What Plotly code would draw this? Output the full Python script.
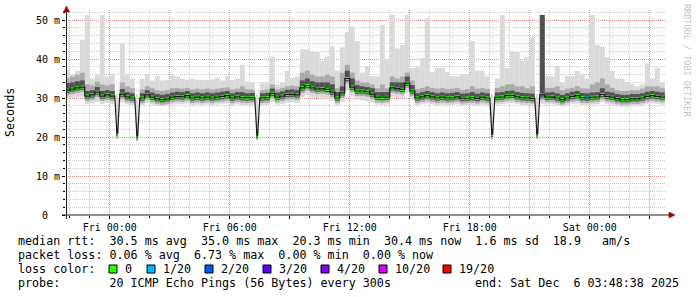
import plotly.graph_objects as go
import pandas as pd

# ---------------- data ----------------
range_start = "2025-12-04 21:48:38"
range_end = "2025-12-06 03:48:38"
bucket_first_center = "2025-12-04 21:52:30"   # 15-minute buckets
bucket_minutes = 15

median = [
    32.0, 32.3, 32.6, 32.8, 30.5, 30.8, 31.5, 30.5, 30.8, 30.5,
    21.0, 31.0, 30.3, 30.0, 20.3, 30.0, 30.8, 30.2, 29.8, 29.6,
    29.8, 30.2, 30.4, 30.3, 30.6, 30.0, 30.2, 30.0, 30.2, 30.0,
    30.2, 30.4, 30.6, 30.0, 30.3, 30.1, 30.0, 30.1, 20.5, 30.0,
    30.1, 31.2, 30.2, 30.5, 30.9, 31.0, 30.8, 32.6, 33.2, 32.6,
    32.3, 32.4, 32.2, 31.5, 30.0, 31.3, 35.0, 32.8, 31.8, 31.8,
    31.6, 31.0, 30.2, 30.1, 30.2, 32.6, 32.4, 32.2, 33.8, 31.8,
    30.0, 30.3, 30.6, 30.3, 30.0, 30.2, 30.0, 30.1, 30.3, 29.9,
    30.0, 30.1, 29.9, 30.2, 30.0, 20.7, 30.2, 30.3, 30.6, 30.7,
    30.3, 30.1, 30.0, 29.9, 20.8, 30.8, 30.2, 30.3, 30.0, 29.6,
    30.0, 30.4, 30.6, 30.1, 30.0, 30.2, 30.3, 30.9, 30.4, 30.2,
    29.8, 29.6, 29.6, 29.8, 29.8, 30.0, 30.4, 30.6, 30.4, 30.2,
]

smoke_hi = [
    37, 36, 37, 45, 51.3, 35, 36, 51.3, 35.5, 36.3,
    31, 44, 36, 35, 31, 35, 36, 34.5, 35.6, 34.5,
    34.6, 36, 35.5, 35, 34.6, 35, 34.6, 34.6, 34.6, 34.8,
    35.2, 34.5, 35.5, 34.6, 35, 38.5, 34.2, 34, 31, 34,
    33.8, 40.6, 33.5, 34, 37, 35.2, 35.5, 42.5, 42.5, 42,
    41.8, 39.5, 40.6, 43.2, 37, 43, 47, 48.3, 44.6, 36.5,
    38.2, 35.6, 35.6, 48.7, 40, 51.3, 42.7, 43.6, 51.3, 37.7,
    38, 40.3, 50.4, 36.6, 37.7, 37.7, 36.6, 35.6, 35.6, 36,
    36, 44.6, 37, 37, 35.6, 31, 35, 51.3, 37.7, 42,
    41.8, 39.6, 40.5, 45.7, 31, 51.3, 35.6, 35.6, 38.2, 34,
    35.6, 35.6, 37, 36, 35, 51.3, 43.6, 43.2, 40.5, 37,
    35, 35, 34, 33.6, 33, 33.5, 38.9, 35, 37.7, 34,
]

smoke_mid_hi = [
    35, 35.5, 36, 36.5, 33.5, 33.2, 34.2, 33.5, 33.2, 33.5,
    22, 34, 33, 32.5, 22, 32.2, 33, 32.5, 32, 31.8,
    32, 32.5, 32.6, 32.4, 32.6, 32.2, 32.4, 32.2, 32.4, 32.2,
    32.4, 32.6, 32.7, 32.2, 32.4, 33, 32.2, 32.2, 22, 32,
    32.2, 33.5, 32.2, 32.6, 33, 33.2, 33, 36.5, 37, 36,
    35.5, 35.5, 36, 35.5, 32.5, 36.5, 38.5, 36.5, 34.5, 34,
    34, 33.5, 32.5, 33.5, 32.5, 35.5, 35, 35.5, 36.5, 34.5,
    32.3, 32.6, 33, 32.6, 32.4, 32.5, 32.3, 32.4, 32.6, 32.1,
    32.3, 33, 32.4, 32.5, 32.3, 22, 32.6, 33, 33.5, 33.5,
    33, 33, 32.5, 33, 22, 34, 32.6, 32.6, 33, 32,
    32.4, 32.6, 33, 32.5, 32.4, 33.5, 34, 35, 33.5, 32.6,
    32, 31.8, 31.8, 32, 32, 32.4, 33, 33, 33, 32.6,
]

smoke_dark_hi = [
    33.8, 34.0, 34.3, 34.5, 31.8, 32.0, 32.8, 31.8, 32.0, 31.8,
    21.5, 32.3, 31.5, 31.2, 21.0, 31.2, 32.0, 31.4, 31.0, 30.8,
    31.0, 31.4, 31.6, 31.5, 31.8, 31.2, 31.4, 31.2, 31.4, 31.2,
    31.4, 31.6, 31.8, 31.2, 31.5, 31.5, 31.2, 31.3, 21.2, 31.2,
    31.3, 32.4, 31.4, 31.7, 32.1, 32.2, 32.0, 34.5, 35.0, 34.3,
    34.0, 34.0, 34.0, 33.5, 31.5, 33.0, 37.0, 35.0, 33.3, 33.0,
    32.8, 32.5, 31.5, 31.5, 31.5, 34.0, 34.0, 34.0, 35.5, 33.3,
    31.2, 31.5, 31.8, 31.5, 31.2, 31.4, 31.2, 31.3, 31.5, 31.1,
    31.2, 31.5, 31.1, 31.4, 31.2, 21.4, 31.4, 31.5, 31.8, 31.9,
    31.5, 31.3, 31.2, 31.1, 21.5, 51.3, 31.4, 31.5, 31.2, 30.8,
    31.2, 31.6, 31.8, 31.3, 31.2, 31.4, 31.5, 32.5, 31.6, 31.4,
    31.0, 30.8, 30.8, 31.0, 31.0, 31.2, 31.6, 31.8, 31.6, 31.4,
]

smoke_lo = [
    29.8, 30.0, 30.2, 30.4, 28.5, 28.6, 29.0, 28.5, 28.7, 28.5,
    19.5, 28.8, 28.4, 28.2, 19.3, 28.2, 28.7, 28.3, 28.0, 27.9,
    28.0, 28.3, 28.5, 28.4, 28.6, 28.2, 28.3, 28.1, 28.3, 28.1,
    28.3, 28.5, 28.6, 28.1, 28.4, 28.2, 28.1, 28.2, 19.5, 28.1,
    28.2, 29.0, 28.3, 28.5, 28.8, 28.9, 28.7, 30.2, 30.8, 30.2,
    30.0, 30.1, 29.9, 29.3, 28.2, 29.0, 32.0, 30.6, 29.6, 29.4,
    29.2, 28.8, 28.3, 28.2, 28.3, 30.3, 30.0, 29.9, 31.3, 29.6,
    28.2, 28.4, 28.6, 28.4, 28.1, 28.3, 28.1, 28.2, 28.4, 28.0,
    28.1, 28.2, 28.0, 28.3, 28.1, 19.6, 28.3, 28.4, 28.6, 28.7,
    28.4, 28.2, 28.1, 28.0, 19.7, 28.5, 28.3, 28.4, 28.1, 27.8,
    28.1, 28.5, 28.6, 28.2, 28.1, 28.3, 28.4, 28.9, 28.5, 28.3,
    27.9, 27.7, 27.7, 27.9, 27.9, 28.1, 28.5, 28.6, 28.5, 28.3,
]

# packet loss per bucket, in twentieths
loss = [
    0, 0, 0, 0, 0, 0, 0, 0, 0, 0,
    0, 0, 0, 0, 0, 0, 0, 0, 0, 0,
    0, 0, 0, 0, 0, 0, 0, 0, 0, 0,
    0, 0, 0, 0, 0, 0, 0, 0, 0, 0,
    0, 0, 0, 0, 0, 0, 0, 0, 0, 0,
    0, 0, 0, 0, 0, 0, 0, 0, 0, 0,
    0, 0, 0, 0, 0, 0, 1, 0, 0, 0,
    0, 0, 0, 0, 0, 0, 0, 0, 0, 0,
    0, 0, 0, 0, 0, 0, 0, 0, 0, 0,
    0, 0, 0, 0, 0, 1, 0, 0, 0, 0,
    0, 0, 0, 0, 1, 0, 0, 0, 0, 0,
    0, 0, 0, 0, 0, 0, 0, 0, 0, 0,
]

loss_levels = [0, 1, 2, 3, 4, 10, 19]
loss_labels = ["0", "1/20", "2/20", "3/20", "4/20", "10/20", "19/20"]
loss_colors = ["#26ff00", "#00b8ff", "#0059ff", "#5e00ff", "#7e00ff", "#dd00ff", "#ff0000"]

x_tickvals = ["2025-12-05 00:00", "2025-12-05 03:00", "2025-12-05 06:00", "2025-12-05 09:00",
              "2025-12-05 12:00", "2025-12-05 15:00", "2025-12-05 18:00", "2025-12-05 21:00",
              "2025-12-06 00:00", "2025-12-06 03:00"]
x_ticktext = ["Fri 00:00", "", "Fri 06:00", "", "Fri 12:00", "", "Fri 18:00", "", "Sat 00:00", ""]
y_tickvals = [0, 10, 20, 30, 40, 50]
y_ticktext = ["0\u00a0\u00a0", "10 m", "20 m", "30 m", "40 m", "50 m"]

stats_rtt = "median rtt:  30.5 ms avg  35.0 ms max  20.3 ms min  30.4 ms now  1.6 ms sd  18.9   am/s"
stats_loss = "packet loss: 0.06 % avg  6.73 % max  0.00 % min  0.00 % now"
probe_text = "probe:       20 ICMP Echo Pings (56 Bytes) every 300s"
end_text = "end: Sat Dec  6 03:48:38 2025"

# ---------------- figure ----------------
n = len(median)
times = pd.date_range(pd.Timestamp(bucket_first_center), periods=n, freq=f"{bucket_minutes}min")

# short downward spikes of the median are drawn narrower (as rrdtool's thin drop lines)
is_drop = [0 < k < n - 1 and median[k] < min(median[k - 1], median[k + 1]) - 5 for k in range(n)]
half_min = [1.2 if d else bucket_minutes / 2 for d in is_drop]
widths = [2 * h * 60000 for h in half_min]
green_widths = [max(0.8 * w, 6 * 60000) for w in widths]

W, H = 697, 297
L, R, T, B = 66, 31, 10, 82
PW, PH = W - L - R, H - T - B
YMAX = PH / 3.9


def px(x):
    return (x - L) / PW


def py(y):
    return (T + PH - y) / PH


fig = go.Figure()

mid_lo = [m - 1.3 for m in median]
dark_lo = [m - 0.7 for m in median]

for lo_, hi_, col in [(smoke_lo, smoke_hi, "#dadada"),
                      (mid_lo, smoke_mid_hi, "#ababab"),
                      (dark_lo, smoke_dark_hi, "#505050")]:
    fig.add_trace(go.Bar(x=times, base=lo_, y=[h - l for h, l in zip(hi_, lo_)],
                         width=widths, marker=dict(color=col, line=dict(width=0)), hoverinfo="skip"))

# median line: horizontal step per bucket, joined to the next bucket
line_x, line_y = [], []
for t, m, h in zip(times, median, half_min):
    line_x += [t - pd.Timedelta(minutes=h), t + pd.Timedelta(minutes=h)]
    line_y += [m, m]
fig.add_trace(go.Scatter(x=line_x, y=line_y, mode="lines", line=dict(color="#181818", width=1.2),
                         hoverinfo="skip"))

for lvl, col in zip(loss_levels, loss_colors):
    base = [m - 0.4 if l == lvl else None for m, l in zip(median, loss)]
    hgt = [0.8 if l == lvl else None for l in loss]
    if any(v is not None for v in base):
        fig.add_trace(go.Bar(x=times, base=base, y=hgt, width=green_widths,
                             marker=dict(color=col, line=dict(width=0)), hoverinfo="skip"))

mono = "DejaVu Sans Mono"
major_grid = "rgba(230,120,120,0.75)"
minor_grid = "rgba(170,170,170,0.6)"

fig.update_layout(
    width=W, height=H, margin=dict(l=L, r=R, t=T, b=B),
    paper_bgcolor="white", plot_bgcolor="white",
    barmode="overlay", showlegend=False,
    font=dict(family=mono, color="#000"),
    xaxis=dict(
        type="date", range=[range_start, range_end],
        tickmode="array", tickvals=x_tickvals, ticktext=x_ticktext,
        showgrid=True, gridcolor=major_grid, gridwidth=1, griddash="1px,1px",
        ticks="outside", ticklen=3, tickcolor="#000", tickwidth=1,
        tickfont=dict(family=mono, size=10, color="#000"),
        minor=dict(tick0="2025-12-05 00:00", dtick=3600000, showgrid=True,
                   gridcolor=minor_grid, griddash="1px,1px", gridwidth=1,
                   ticks="outside", ticklen=2, tickcolor="#000"),
        showline=False, zeroline=False, layer="above traces", fixedrange=True,
    ),
    yaxis=dict(
        range=[0, YMAX], tickmode="array", tickvals=y_tickvals, ticktext=y_ticktext,
        showgrid=True, gridcolor=major_grid, gridwidth=1, griddash="1px,1px",
        ticks="outside", ticklen=3, tickcolor="#000", tickwidth=1,
        tickfont=dict(family=mono, size=10, color="#000"),
        minor=dict(tick0=0, dtick=2, showgrid=True, gridcolor=minor_grid,
                   griddash="1px,1px", gridwidth=1, ticks="outside", ticklen=2, tickcolor="#000"),
        showline=False, zeroline=False, layer="above traces", fixedrange=True,
    ),
)

axis_col = "#202020"
arrow_col = "#9a0000"
shapes = [
    dict(type="line", xref="paper", yref="paper", x0=px(62), x1=px(670), y0=py(215), y1=py(215),
         line=dict(color=axis_col, width=1), layer="above"),
    dict(type="line", xref="paper", yref="paper", x0=px(66.5), x1=px(66.5), y0=py(219), y1=py(10),
         line=dict(color=axis_col, width=1), layer="above"),
    dict(type="path", xref="paper", yref="paper",
         path=f"M {px(66.5)},{py(6)} L {px(63.5)},{py(12)} L {px(69.5)},{py(12)} Z",
         fillcolor=arrow_col, line=dict(color=arrow_col, width=0.5), layer="above"),
    dict(type="path", xref="paper", yref="paper",
         path=f"M {px(675)},{py(215)} L {px(669)},{py(212)} L {px(669)},{py(218)} Z",
         fillcolor=arrow_col, line=dict(color=arrow_col, width=0.5), layer="above"),
]

# loss colour legend boxes
box_x = [109, 147, 205, 263, 321, 379, 443]
label_x = [123, 161, 219, 277, 335, 393, 457]
annotations = []
for bx, lx, col, lab in zip(box_x, label_x, loss_colors, loss_labels):
    shapes.append(dict(type="rect", xref="paper", yref="paper", x0=px(bx), x1=px(bx + 8),
                       y0=py(273), y1=py(265), fillcolor=col, line=dict(color="#000", width=1)))
    annotations.append(dict(xref="paper", yref="paper", x=px(lx), y=py(269), text=lab,
                            xanchor="left", yanchor="middle", showarrow=False,
                            font=dict(family=mono, size=11.7, color="#000")))


def nb(s):
    return s.replace(" ", "\u00a0")


for txt, yy in [(stats_rtt, 241), (stats_loss, 255), ("loss color:", 269), (probe_text, 283)]:
    annotations.append(dict(xref="paper", yref="paper", x=px(16), y=py(yy), text=nb(txt),
                            xanchor="left", yanchor="middle", showarrow=False,
                            font=dict(family=mono, size=11.7, color="#000")))
annotations.append(dict(xref="paper", yref="paper", x=px(681), y=py(283), text=nb(end_text),
                        xanchor="right", yanchor="middle", showarrow=False,
                        font=dict(family=mono, size=11.7, color="#000")))
annotations.append(dict(xref="paper", yref="paper", x=px(10), y=py(113), text="Seconds",
                        textangle=-90, showarrow=False, xanchor="center", yanchor="middle",
                        font=dict(family=mono, size=11.7, color="#000")))
annotations.append(dict(xref="paper", yref="paper", x=px(687), y=py(60), text=nb("RRDTOOL / TOBI OETIKER"),
                        textangle=90, showarrow=False, xanchor="center", yanchor="middle",
                        font=dict(family=mono, size=8.5, color="#c4c4c4")))

fig.update_layout(shapes=shapes, annotations=annotations)
fig.write_html("out.html")
